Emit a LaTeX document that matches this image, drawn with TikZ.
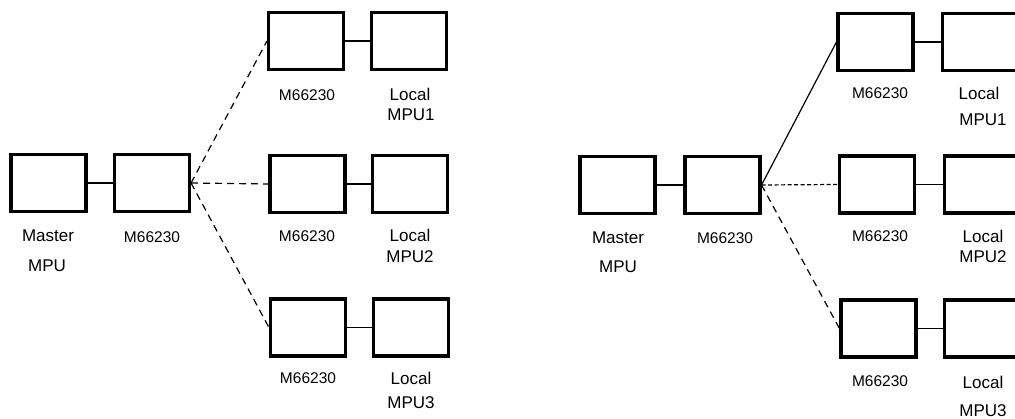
\documentclass[tikz,border=0pt]{standalone}
\usepackage{fontspec}
\setmainfont{Liberation Sans}
\begin{document}
\begin{tikzpicture}[x=1pt,y=-1pt,
  unit/.style={draw, line width=3.1pt, minimum width=75pt, minimum height=57pt, inner sep=0pt},
  lbl/.style={font=\fontsize{17}{19}\selectfont, anchor=base, inner sep=0pt},
  chip/.style={font=\fontsize{15.5}{17}\selectfont, anchor=base, inner sep=0pt},
  link/.style={line width=1.2pt},
  bus/.style={line width=1.2pt, dash pattern=on 7pt off 5pt},
  fine/.style={line width=1.2pt, dash pattern=on 4pt off 2.5pt}]
\useasboundingbox (0,0) rectangle (1015,419);
\clip (0,0) rectangle (1015,419);
% ---------- left diagram ----------
\node[unit] (lmm) at (48.5,183) {};
\node[unit] (lmc) at (152,183) {};
\node[unit] (la1) at (306,41) {};
\node[unit] (lb1) at (409,41) {};
\node[unit] (la2) at (307.5,184) {};
\node[unit] (lb2) at (410,184) {};
\node[unit] (la3) at (308,327.5) {};
\node[unit] (lb3) at (411,327.5) {};
\draw[link] (lmm.east) -- (lmc.west);
\draw[link] (la1.east) -- (lb1.west);
\draw[link] (la2.east) -- (lb2.west);
\draw[link] (la3.east) -- (lb3.west);
\draw[bus] (lmc.east) -- (la1.west);
\draw[bus] (lmc.east) -- (la2.west);
\draw[bus] (lmc.east) -- (la3.west);
\node[lbl] (lt1) at (48,242) {Master};
\node[lbl] (lt2) at (47,272) {MPU};
\node[chip] (lt3) at (152,243) {M66230};
\node[chip] (lt4) at (307,101) {M66230};
\node[lbl] (lt5) at (410,101) {Local};
\node[lbl] (lt6) at (411,121) {MPU1};
\node[chip] (lt7) at (307,242) {M66230};
\node[lbl] (lt8) at (410,242) {Local};
\node[lbl] (lt9) at (410,263) {MPU2};
\node[chip] (lt10) at (308,384) {M66230};
\node[lbl] (lt11) at (411,385) {Local};
\node[lbl] (lt12) at (411,409) {MPU3};
% ---------- right diagram ----------
\node[unit] (rmm) at (617.5,185) {};
\node[unit] (rmc) at (722.5,185) {};
\node[unit] (ra1) at (875.5,42) {};
\node[unit] (rb1) at (980,42) {};
\node[unit] (ra2) at (877,184.5) {};
\node[unit] (rb2) at (982,184.5) {};
\node[unit] (ra3) at (878.5,328.5) {};
\node[unit] (rb3) at (982,328.5) {};
\draw[link] (rmm.east) -- (rmc.west);
\draw[link] (ra1.east) -- (rb1.west);
\draw[link] (ra2.east) -- (rb2.west);
\draw[link] (ra3.east) -- (rb3.west);
\draw[link] (rmc.east) -- (ra1.west);
\draw[fine] (rmc.east) -- (ra2.west);
\draw[bus] (rmc.east) -- (ra3.west);
\node[lbl] (rt1) at (618,244) {Master};
\node[lbl] (rt2) at (618,273) {MPU};
\node[chip] (rt3) at (725,244) {M66230};
\node[chip] (rt4) at (880,99) {M66230};
\node[lbl] (rt5) at (979,100) {Local};
\node[lbl] (rt6) at (983,126) {MPU1};
\node[chip] (rt7) at (880,242) {M66230};
\node[lbl] (rt8) at (983,243) {Local};
\node[lbl] (rt9) at (983,263) {MPU2};
\node[chip] (rt10) at (880,387) {M66230};
\node[lbl] (rt11) at (983,389) {Local};
\node[lbl] (rt12) at (983,417) {MPU3};
\end{tikzpicture}
\end{document}
